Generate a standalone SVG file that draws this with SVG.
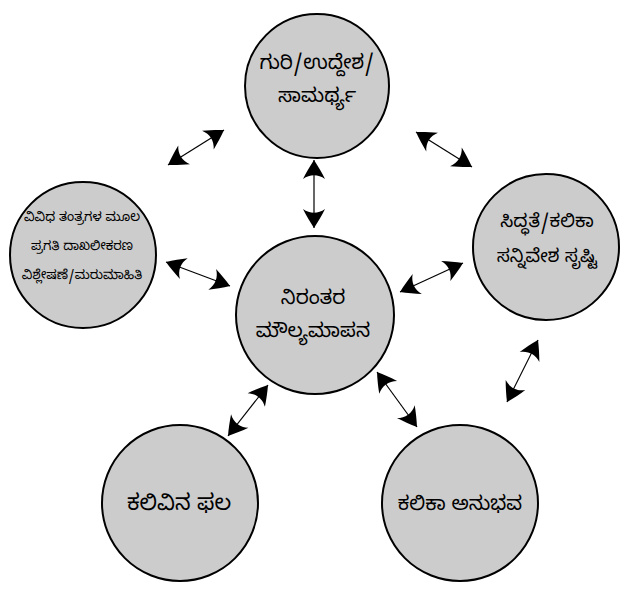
<svg xmlns="http://www.w3.org/2000/svg" width="621" height="594" viewBox="0 0 621 594">
<style>
.n{fill:#cccccc;stroke:#000;stroke-width:2}
.t{font-family:"Noto Sans Kannada","Lohit Kannada","Noto Sans","DejaVu Sans",sans-serif;fill:#000;text-anchor:middle;font-weight:normal}
.l{font-size:20px}
.s{font-size:13px}
.c line{stroke:#000;stroke-width:1.2;marker-start:url(#ah);marker-end:url(#ah)}
</style>
<defs>
<marker id="ah" markerUnits="userSpaceOnUse" viewBox="-21 -12 23 24" refX="0" refY="0" markerWidth="23" markerHeight="24" orient="auto-start-reverse">
<path d="M0,0 C-6,-4 -13,-8 -19,-11 C-14,-4 -14,4 -19,11 C-13,8 -6,4 0,0 Z" fill="#000"/>
</marker>
</defs>
<rect width="621" height="594" fill="#fff"/>
<g class="c" id="connectors">
<line x1="168" y1="165" x2="224" y2="130"/>
<line x1="416" y1="132" x2="472" y2="167"/>
<line x1="314" y1="160" x2="314" y2="228"/>
<line x1="166" y1="262" x2="230" y2="286"/>
<line x1="400" y1="292" x2="463" y2="263"/>
<line x1="268" y1="385" x2="228" y2="436"/>
<line x1="377" y1="372" x2="417" y2="427"/>
<line x1="538" y1="340" x2="507" y2="402"/>
</g>
<g id="goal">
<circle class="n" cx="317" cy="86" r="72"/>
<text class="t l" x="317" y="69">ಗುರಿ/ಉದ್ದೇಶ/</text>
<text class="t l" x="317" y="102">ಸಾಮರ್ಥ್ಯ</text>
</g>
<g id="progress">
<circle class="n" cx="83" cy="255" r="73"/>
<text class="t s" x="82" y="221">ವಿವಿಧ ತಂತ್ರಗಳ ಮೂಲ</text>
<text class="t s" x="82" y="250">ಪ್ರಗತಿ ದಾಖಲೀಕರಣ</text>
<text class="t s" x="82" y="279">ವಿಶ್ಲೇಷಣೆ/ಮರುಮಾಹಿತಿ</text>
</g>
<g id="prepare">
<circle class="n" cx="546" cy="247" r="73"/>
<text class="t" style="font-size:18.5px" x="547" y="227">ಸಿದ್ಧತೆ/ಕಲಿಕಾ</text>
<text class="t" style="font-size:18.5px" x="547" y="262">ಸನ್ನಿವೇಶ ಸೃಷ್ಟಿ</text>
</g>
<g id="continuous">
<circle class="n" cx="315" cy="315" r="79"/>
<text class="t l" x="313" y="304">ನಿರಂತರ</text>
<text class="t l" x="313" y="337">ಮೌಲ್ಯಮಾಪನ</text>
</g>
<g id="outcome">
<circle class="n" cx="180" cy="503" r="78"/>
<text class="t" style="font-size:22px" x="179" y="510">ಕಲಿವಿನ ಫಲ</text>
</g>
<g id="experience">
<circle class="n" cx="460" cy="503" r="78"/>
<text class="t l" x="460" y="510">ಕಲಿಕಾ ಅನುಭವ</text>
</g>
</svg>
